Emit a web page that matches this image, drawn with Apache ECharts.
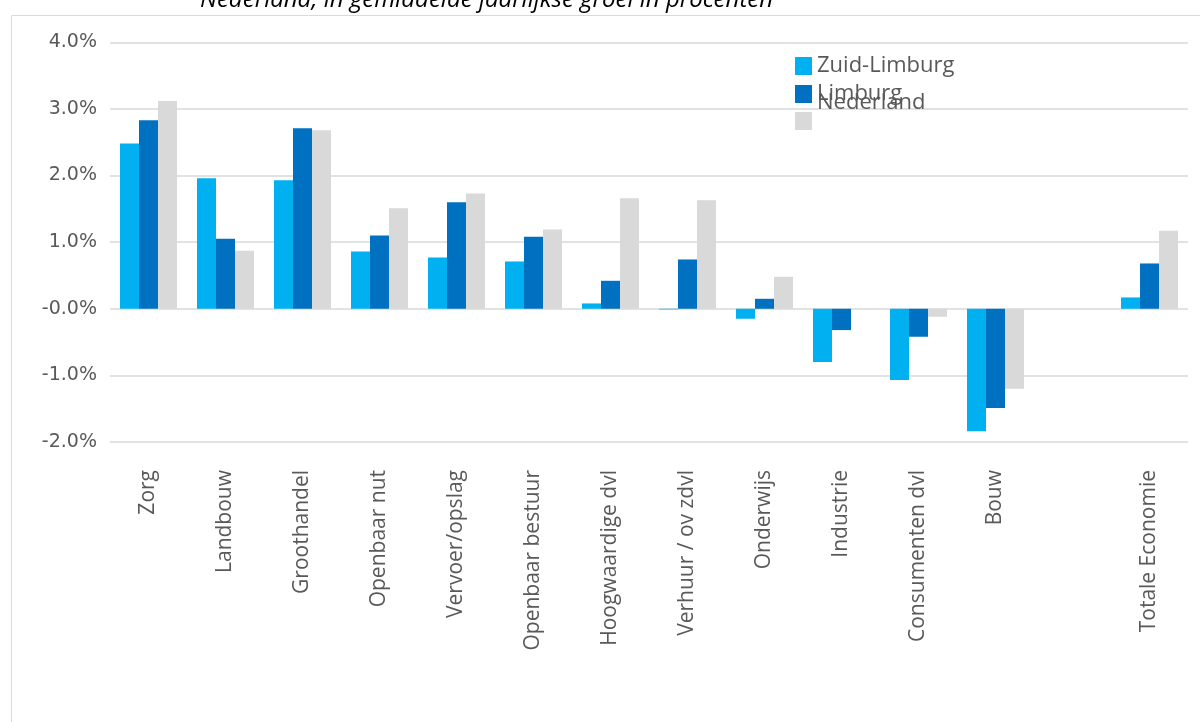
<!DOCTYPE html>
<html>
<head>
<meta charset="utf-8">
<script src="https://cdn.jsdelivr.net/npm/echarts@6/dist/echarts.min.js"></script>
<style>html,body{margin:0;padding:0;background:#fff;}#c{width:1200px;height:722px;}</style>
</head>
<body>
<div id="c"></div>
<script>
const categories = ['Zorg','Landbouw','Groothandel','Openbaar nut','Vervoer/opslag','Openbaar bestuur','Hoogwaardige dvl','Verhuur / ov zdvl','Onderwijs','Industrie','Consumenten dvl','Bouw','','Totale Economie'];
const zuidLimburg = [2.48, 1.96, 1.93, 0.86, 0.77, 0.71, 0.08, -0.01, -0.15, -0.80, -1.07, -1.84, null, 0.17];
const limburg     = [2.83, 1.05, 2.71, 1.10, 1.60, 1.08, 0.42, 0.74, 0.15, -0.32, -0.42, -1.49, null, 0.68];
const nederland   = [3.12, 0.87, 2.68, 1.51, 1.73, 1.19, 1.66, 1.63, 0.48, 0.00, -0.12, -1.20, null, 1.17];
const yTickValues = [-2, -1, 0, 1, 2, 3, 4];
const yTickLabels = ['-2.0%', '-1.0%', '-0.0%', '1.0%', '2.0%', '3.0%', '4.0%'];
const titleText = 'Nederland, in gemiddelde jaarlijkse groei in procenten';

const font = '"Open Sans", "Noto Sans", sans-serif';
const chart = echarts.init(document.getElementById('c'));
chart.setOption({
  animation: false,
  backgroundColor: '#fff',
  title: {
    text: titleText, left: 195, top: -17,
    textStyle: {fontFamily: font, fontStyle: 'italic', fontWeight: 'normal', fontSize: 24, color: '#000'}
  },
  graphic: [{
    type: 'polyline', silent: true,
    shape: {points: [[11.5, 722], [11.5, 15.5], [1200, 15.5]]},
    style: {stroke: '#d9d9d9', lineWidth: 1, fill: null}
  }],
  legend: [
    {data: ['Zuid-Limburg'], icon: 'rect', left: 790, top: 50, itemWidth: 17, itemHeight: 18, itemGap: 0,
     textStyle: {fontFamily: font, fontSize: 22, color: '#595959'}},
    {data: ['Limburg'], icon: 'rect', left: 790, top: 78, itemWidth: 17, itemHeight: 18, itemGap: 0,
     textStyle: {fontFamily: font, fontSize: 22, color: '#595959'}},
    {data: ['Nederland'], icon: 'rect', left: 790, top: 87, itemWidth: 17, itemHeight: 18, itemGap: 0,
     formatter: '{n|{name}}',
     textStyle: {fontFamily: font, fontSize: 22, color: '#595959',
       rich: {n: {fontFamily: font, fontSize: 22, color: '#595959', padding: [0, 0, 36, 0]}}}}
  ],
  grid: {left: 110, right: 12, top: 42.3, bottom: 280, containLabel: false},
  xAxis: {
    type: 'category', data: categories, position: 'bottom',
    axisLine: {show: false, onZero: false}, axisTick: {show: false},
    axisLabel: {rotate: 90, margin: 28, fontFamily: font, fontSize: 21, color: '#595959', interval: 0}
  },
  yAxis: {
    type: 'value', min: -2, max: 4, interval: 1,
    axisLine: {show: false}, axisTick: {show: false},
    splitLine: {lineStyle: {color: '#d9d9d9', width: 1.5}},
    axisLabel: {
      margin: 13, fontFamily: '"DejaVu Sans", sans-serif', fontSize: 19, color: '#595959',
      formatter: v => { const i = yTickValues.indexOf(Math.round(v)); return i >= 0 ? yTickLabels[i] : ''; }
    }
  },
  series: [
    {name: 'Zuid-Limburg', type: 'bar', data: zuidLimburg, itemStyle: {color: '#00B0F0'}, barGap: '0%', barCategoryGap: '26%'},
    {name: 'Limburg', type: 'bar', data: limburg, itemStyle: {color: '#0070C0'}, barGap: '0%', barCategoryGap: '26%'},
    {name: 'Nederland', type: 'bar', data: nederland, itemStyle: {color: '#D9D9D9'}, barGap: '0%', barCategoryGap: '26%'}
  ]
});
</script>
</body>
</html>
